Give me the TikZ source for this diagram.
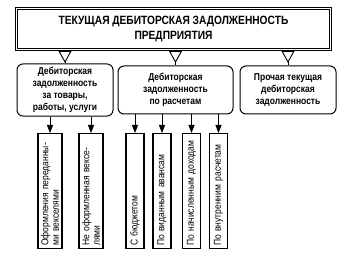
\documentclass[tikz,border=0pt]{standalone}
\usepackage{fontspec}
\setmainfont{Liberation Sans}[FakeStretch=0.85]
\usetikzlibrary{arrows.meta,decorations.markings}

\begin{document}
\begin{tikzpicture}[x=1pt, y=1pt, >={Triangle[width=6pt, length=8pt]},
  headbox/.style={draw, double, double distance=1.4pt, line width=0.9pt,
    minimum width=314pt, minimum height=41pt, align=center,
    font=\bfseries\fontsize{12}{15}\selectfont},
  groupbox/.style={draw, rounded corners=6pt, line width=1pt,
    minimum height=48pt, align=center,
    font=\bfseries\fontsize{10}{12}\selectfont},
  leafbox/.style={draw, line width=1.4pt, rotate=90, anchor=east,
    minimum width=115pt, text width=109pt, minimum height=18pt,
    inner sep=3pt, align=left, font=\fontsize{10}{10.5}\selectfont},
  opentri/.style={postaction={decorate}, decoration={markings,
    mark=at position 13pt with {\arrow{Triangle[open, fill=white, width=13pt, length=12pt]}}}}]

  \useasboundingbox (0,0) rectangle (345,262);

  % Head box
  \node[headbox] (head) at (173.5,233) {ТЕКУЩАЯ ДЕБИТОРСКАЯ ЗАДОЛЖЕННОСТЬ\\ПРЕДПРИЯТИЯ};

  % Three groups
  \node[groupbox, minimum width=96pt] (goods) at (65,172)
    {Дебиторская\\задолженность\\за товары,\\работы, услуги};
  \node[groupbox, minimum width=115pt] (settle) at (175.5,172)
    {Дебиторская\\задолженность\\по расчетам};
  \node[groupbox, minimum width=96pt] (other) at (288,172)
    {Прочая текущая\\дебиторская\\задолженность};

  \foreach \grp in {goods,settle,other}
    \draw[opentri, line width=0.9pt] (\grp.north |- head.south) -- (\grp.north);

  % Vertical boxes
  \node[leafbox] (bills) at (50,129) {Оформления переданны-\\ми векселями};
  \node[leafbox] (nobills) at (91,129) {Не оформленная вексе-\\лями};
  \node[leafbox] (budget) at (135,129) {С бюджетом};
  \node[leafbox] (adv) at (162,129) {По виданным авансам};
  \node[leafbox] (income) at (191.5,129) {По начисленным доходам};
  \node[leafbox] (inner) at (218.5,129) {По внутренним расчетам};

  \foreach \leaf in {bills,nobills}
    \draw[->, line width=1pt] (\leaf.east |- goods.south) -- (\leaf.east);
  \foreach \leaf in {budget,adv,income,inner}
    \draw[->, line width=1pt] (\leaf.east |- settle.south) -- (\leaf.east);

\end{tikzpicture}
\end{document}
